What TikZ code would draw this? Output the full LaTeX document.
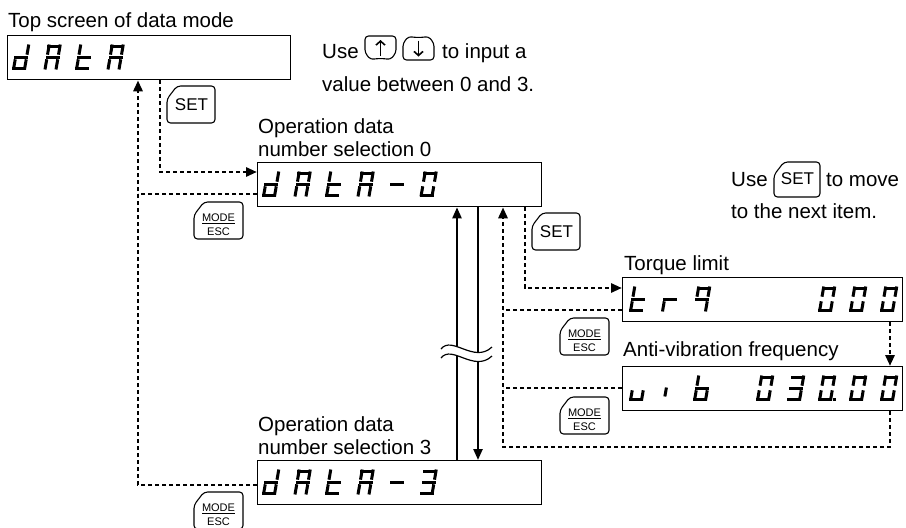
\documentclass[tikz,border=0pt]{standalone}
\usepackage{fontspec}
\setmainfont{Liberation Sans}
\usetikzlibrary{arrows.meta}

% seven-segment strokes in an upright cell (x1/y1/x2/y2, y pointing up)
\def\sgA{1.5/23.5/12.5/23.5}
\def\sgB{12.5/16.3/12.5/23.5}
\def\sgC{12.5/1.5/12.5/8.7}
\def\sgD{1.5/1.5/12.5/1.5}
\def\sgE{1.5/1.5/1.5/8.7}
\def\sgF{1.5/16.3/1.5/23.5}
\def\sgG{1.5/12.5/12.5/12.5}
\def\sgI{3.2/5.5/3.2/11.5}
\def\sgP{16.0/1.5/16.1/1.5}
\def\segslant{0.17}
% each stroke is leaned to the right by \segslant
\def\drawseg#1/#2/#3/#4\relax{\draw[segstroke] ({#1+\segslant*#2},#2) -- ({#3+\segslant*#4},#4);}
% one digit cell: x, y of its lower left corner, list of lit segments
\newcommand\glyph[3]{%
  \begin{scope}[shift={(#1,#2)}, yscale=-1]
    \foreach \s in {#3}{\expandafter\expandafter\expandafter\drawseg\csname sg\s\endcsname\relax}
  \end{scope}}
\newcommand\chrd[2]{\glyph{#1}{#2}{B,C,D,E,G}}
\newcommand\chrA[2]{\glyph{#1}{#2}{A,B,C,E,F,G}}
\newcommand\chrt[2]{\glyph{#1}{#2}{D,E,F,G}}
\newcommand\chrdash[2]{\glyph{#1}{#2}{G}}
\newcommand\chrzero[2]{\glyph{#1}{#2}{A,B,C,D,E,F}}
\newcommand\chrthree[2]{\glyph{#1}{#2}{A,B,C,D,G}}
\newcommand\chrr[2]{\glyph{#1}{#2}{E,G}}
\newcommand\chrnine[2]{\glyph{#1}{#2}{A,B,C,F,G}}
\newcommand\chru[2]{\glyph{#1}{#2}{C,D,E}}
\newcommand\chri[2]{\glyph{#1}{#2}{I}}
\newcommand\chrb[2]{\glyph{#1}{#2}{C,D,E,F,G}}

% operation keys
\newcommand\keycap[4]{% x, y, width, height; chamfered upper left corner
  \draw[keyline] (#1,#2+13) -- (#1+10,#2) -- (#1+#3,#2) -- (#1+#3,#2+#4) -- (#1,#2+#4) -- cycle;}
\newcommand\setkey[5]{% x, y, width, height, name
  \keycap{#1}{#2}{#3}{#4}
  \node[keytxt] (#5) at (#1+#3/2+0.5,#2+#4-12.5) {SET};}
\newcommand\modekey[3]{% x, y, name
  \keycap{#1}{#2}{49}{37}
  \node[modetxt] (#3m) at (#1+24.5,#2+19) {MODE};
  \draw[line width=0.8pt] (#1+8,#2+21.5) -- (#1+41,#2+21.5);
  \node[modetxt] (#3e) at (#1+24.5,#2+33) {ESC};}
\newcommand\upkey[2]{%
  \draw[keyline] (#1,#2) -- (#1+31,#2) -- (#1+31,#2+17) -- (#1+25,#2+24)
    .. controls (#1+20,#2+22.5) and (#1+11,#2+22.5) .. (#1+6,#2+24) -- (#1,#2+17) -- cycle;
  \draw[line width=1.6pt, -{Straight Barb[length=4pt,width=9pt]}] (#1+15.5,#2+20) -- (#1+15.5,#2+4);}
\newcommand\downkey[2]{%
  \draw[keyline] (#1,#2+24) -- (#1,#2+7) -- (#1+6,#2)
    .. controls (#1+11,#2+1.5) and (#1+20,#2+1.5) .. (#1+25,#2) -- (#1+31,#2+7) -- (#1+31,#2+24) -- cycle;
  \draw[line width=1.6pt, -{Straight Barb[length=4pt,width=9pt]}] (#1+15.5,#2+4.5) -- (#1+15.5,#2+20.5);}

\begin{document}
\begin{tikzpicture}[x=1pt,y=-1pt,
  segstroke/.style={line width=3pt, line cap=rect},
  disp/.style={draw, line width=1.3pt, minimum height=44pt, inner sep=0pt, anchor=north west},
  lbl/.style={inner sep=0pt, anchor=base west, font=\fontsize{20.5}{24}\selectfont},
  keyline/.style={line width=1.1pt, rounded corners=3.5pt},
  keytxt/.style={inner sep=0pt, anchor=base, font=\fontsize{17}{18}\selectfont},
  modetxt/.style={inner sep=0pt, anchor=base, font=\fontsize{11}{12}\selectfont},
  dotline/.style={line width=2.9pt, dash pattern=on 4pt off 3pt},
  tip/.style={-{Triangle[length=11pt,width=9pt]}},
  flow/.style={line width=2.3pt},
]
\useasboundingbox (0,0) rectangle (906,528);

% display windows
\node[disp, minimum width=283pt] (top) at (7,35) {};
\node[disp, minimum width=284pt] (d0) at (257,162) {};
\node[disp, minimum width=284pt] (d3) at (257,460) {};
\node[disp, minimum width=280pt] (trq) at (622,277) {};
\node[disp, minimum width=280pt] (vib) at (622,366) {};

% display contents
\chrd{12}{69.5}\chrA{43.5}{69.5}\chrt{75}{69.5}\chrA{106.5}{69.5}
\chrd{262}{196.5}\chrA{293.5}{196.5}\chrt{325}{196.5}\chrA{356.5}{196.5}\chrdash{388}{196.5}\chrzero{419.5}{196.5}
\chrd{262}{494.5}\chrA{293.5}{494.5}\chrt{325}{494.5}\chrA{356.5}{494.5}\chrdash{388}{494.5}\chrthree{419.5}{494.5}
\chrt{629}{311.5}\chrr{661}{311.5}\chrnine{693}{311.5}\chrzero{818}{311.5}\chrzero{849}{311.5}\chrzero{880}{311.5}
\chru{629}{400.5}\chri{661}{400.5}\chrb{693}{400.5}\chrzero{756}{400.5}\chrthree{787}{400.5}
\glyph{818}{400.5}{A,B,C,D,E,F,P}\chrzero{849}{400.5}\chrzero{880}{400.5}

% captions
\node[lbl] (ttop) at (8,27) {Top screen of data mode};
\node[lbl] (op0a) at (258,133) {Operation data};
\node[lbl] (op0b) at (258,156) {number selection 0};
\node[lbl] (op3a) at (258,431) {Operation data};
\node[lbl] (op3b) at (258,454) {number selection 3};
\node[lbl] (ttrq) at (624,270) {Torque limit};
\node[lbl] (tvib) at (623,356) {Anti-vibration frequency};

% notes
\node[lbl] (use1) at (322,58) {Use};
\upkey{365}{36}
\downkey{403}{36}
\node[lbl] (use1b) at (442,58) {to input a};
\node[lbl] (use2) at (322,91) {value between 0 and 3.};
\node[lbl] (use3) at (731,186) {Use};
\setkey{774}{162}{46}{35}{setn}
\node[lbl] (use3b) at (826,186) {to move};
\node[lbl] (use4) at (731,218) {to the next item.};

% keys along the paths
\setkey{167}{86}{48}{37}{set1}
\setkey{532}{213}{48}{37}{set2}
\modekey{194}{202}{mk1}
\modekey{560}{318}{mk2}
\modekey{560}{397}{mk3}
\modekey{194}{492}{mk4}

% key transitions
\draw[dotline, tip] (160,0 |- top.south) |- (d0.west |- 0,172);
\draw[dotline, tip] (d3.west |- 0,485) -| (138,0 |- top.south);
\draw[dotline] (d0.west |- 0,194) -- (138,194);
\draw[dotline, tip] (525,0 |- d0.south) |- (trq.west |- 0,288);
\draw[dotline, tip] (890,0 |- trq.south) -- (890,0 |- vib.north);
\draw[dotline, tip] (890,0 |- vib.south) |- (503,447) -- (503,0 |- d0.south);
\draw[dotline] (trq.west |- 0,310) -- (503,310);
\draw[dotline] (vib.west |- 0,388) -- (503,388);

% number selection up and down
\draw[flow, tip] (457,0 |- d3.north) -- (457,0 |- d0.south);
\draw[flow, tip] (478,0 |- d0.south) -- (478,0 |- d3.north);

% break mark
\fill[white] (441,349) .. controls (452,335) and (474,364) .. (492,347) -- (492,356)
  .. controls (474,373) and (452,344) .. (441,358) -- cycle;
\draw[line width=1.2pt] (441,349) .. controls (452,335) and (474,364) .. (492,347);
\draw[line width=1.2pt] (441,358) .. controls (452,344) and (474,373) .. (492,356);
\end{tikzpicture}
\end{document}
